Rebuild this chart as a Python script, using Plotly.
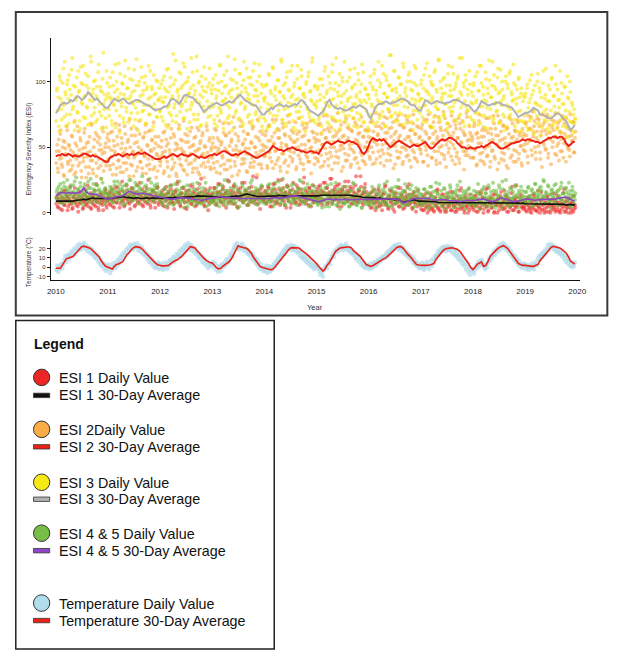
import plotly.graph_objects as go
import pandas as pd

W, H = 633, 659


def px(x):
    return x / W


def py(y):
    return 1 - y / H


years = [2010, 2011, 2012, 2013, 2014, 2015, 2016, 2017, 2018, 2019, 2020]

# ---- 30-day averages, read twice a month (1st and 15th), 2010-2019 ----
esi1_avg = [
    9, 9, 8.5, 9, 9, 8.5, 9, 9, 9, 9.5, 9.5, 10, 10, 10.5, 10, 10.5, 11, 11.5, 11, 11, 11, 10.5, 10.5, 10.5,
    10.5, 11, 11, 11.5, 12, 12, 12, 12.5, 12, 12, 11.5, 11.5, 11, 11.5, 11.5, 11, 11, 11.5, 11.5, 11, 11.5, 11.5, 11, 11.5,
    11.5, 11, 11.5, 11.5, 11, 11.5, 11.5, 12, 11.5, 11.5, 12, 12, 12, 12.5, 12, 12.5, 12.5, 13, 13, 13, 13, 13, 12.5, 12.5,
    12.5, 12, 12.5, 12, 12, 11.5, 11.5, 11.5, 12, 12.5, 12.5, 12.5, 13, 13, 13.5, 14, 14.5, 14, 13.5, 13, 13, 12.5, 12.5, 12.5,
    12.5, 13, 13, 13, 12.5, 13, 13, 13.5, 13, 13, 13, 12.5, 12.5, 13, 13, 12.5, 12.5, 13, 12.5, 12.5, 12.5, 13, 12.5, 13,
    13, 13, 13.5, 13.5, 14, 14, 13.5, 14, 14, 13.5, 13.5, 14, 14, 14, 13.5, 14, 13.5, 13, 13, 12.5, 12.5, 12, 12, 12,
    12, 11.5, 11.5, 11.5, 11, 11.5, 11, 11, 11, 10.5, 10.5, 10.5, 10, 10.5, 10, 9, 8, 8.5, 9, 9.5, 10, 10, 9.5, 9,
    9, 9, 8.5, 9, 9, 8.5, 9, 8.5, 8, 8, 8, 7.5, 7.5, 8, 8, 8, 7.5, 8, 8, 8, 7.5, 7.5, 7.5, 7.5,
    7.5, 8, 7.5, 8, 8, 8, 8, 7.5, 8, 7.5, 7.5, 7.5, 7.5, 8, 7.5, 7.5, 8, 7.5, 7.5, 7.5, 7.5, 7.5, 7, 7.5,
    7, 7, 7, 6.5, 7, 7, 6.5, 7, 7, 6.5, 7, 7, 6.5, 7, 6.5, 6.5, 6.5, 6.5, 6.5, 6, 6.5, 6.5, 6, 6.5,
]
esi2_avg = [
    43, 44, 44, 45, 44, 44, 45, 44, 43, 44, 43, 43, 44, 45, 45, 44, 43, 44, 43, 43, 42, 41, 40, 39,
    39, 42, 43, 44, 44, 45, 44, 43, 44, 45, 44, 45, 44, 45, 46, 45, 45, 46, 45, 44, 43, 42, 41, 41,
    41, 42, 43, 42, 43, 44, 45, 44, 43, 44, 45, 44, 44, 43, 44, 45, 44, 43, 42, 43, 42, 42, 43, 44,
    44, 45, 44, 45, 46, 47, 47, 46, 45, 44, 44, 45, 44, 45, 46, 47, 46, 45, 44, 43, 42, 42, 43, 44,
    45, 46, 47, 49, 51, 50, 49, 48, 48, 47, 48, 49, 49, 50, 49, 48, 48, 47, 47, 46, 46, 47, 47, 46,
    46, 45, 48, 51, 53, 54, 53, 52, 53, 54, 55, 54, 54, 53, 54, 55, 54, 54, 53, 52, 49, 46, 45, 47,
    51, 55, 57, 56, 55, 56, 55, 56, 54, 52, 50, 51, 53, 54, 55, 54, 53, 52, 51, 50, 51, 52, 51, 51,
    52, 53, 54, 52, 50, 49, 50, 52, 54, 55, 56, 55, 56, 57, 57, 56, 55, 53, 51, 50, 50, 49, 49, 50,
    49, 49, 50, 50, 51, 50, 51, 52, 53, 54, 53, 52, 50, 49, 49, 50, 51, 52, 53, 53, 54, 54, 55, 56,
    55, 56, 56, 55, 55, 54, 54, 53, 54, 55, 56, 57, 57, 58, 58, 57, 58, 58, 56, 53, 51, 52, 54, 54,
]
esi3_avg = [
    76, 78, 82, 83, 84, 83, 84, 86, 85, 87, 89, 88, 86, 87, 89, 92, 90, 88, 86, 87, 85, 83, 81, 80,
    80, 82, 85, 87, 86, 85, 86, 87, 86, 84, 83, 84, 85, 86, 86, 85, 84, 83, 82, 82, 80, 79, 78, 79,
    79, 80, 81, 81, 83, 86, 87, 86, 84, 83, 86, 89, 90, 89, 88, 88, 86, 84, 83, 80, 77, 78, 80, 81,
    82, 83, 84, 83, 82, 82, 83, 84, 85, 84, 85, 87, 89, 90, 88, 86, 85, 84, 83, 82, 82, 80, 77, 75,
    75, 77, 78, 80, 79, 81, 82, 83, 82, 81, 82, 81, 81, 82, 83, 82, 84, 86, 85, 83, 80, 78, 77, 76,
    75, 74, 76, 77, 80, 84, 86, 83, 81, 80, 79, 80, 79, 78, 78, 79, 80, 81, 80, 81, 82, 81, 80, 79,
    74, 72, 76, 80, 82, 83, 83, 84, 85, 84, 83, 84, 84, 85, 86, 87, 87, 86, 85, 83, 82, 82, 80, 78,
    78, 82, 86, 85, 84, 83, 84, 85, 85, 84, 84, 83, 84, 84, 85, 86, 86, 86, 85, 84, 83, 82, 82, 80,
    78, 77, 79, 82, 85, 84, 83, 82, 82, 83, 83, 84, 84, 83, 82, 82, 81, 81, 80, 78, 75, 73, 74, 75,
    76, 76, 77, 78, 80, 79, 78, 75, 75, 74, 73, 72, 72, 73, 75, 76, 75, 73, 71, 70, 66, 63, 65, 67,
]
esi45_avg = [
    13, 14, 15.5, 15.5, 15, 15, 15.5, 15, 15.5, 15, 15.5, 15.5, 17, 19, 16, 15, 14.5, 14.5, 14, 14, 13, 12, 11.5, 11,
    10.5, 11, 11.5, 12, 12.5, 12.5, 12.5, 13, 14, 15.5, 16.5, 16, 15, 14.5, 14.5, 15, 15, 15, 14.5, 14, 13.5, 13, 12.5, 12.5,
    12, 12, 11.5, 11, 10.5, 10.5, 10.5, 11, 11, 11.5, 11.5, 11.5, 11, 11, 11, 10.5, 10.5, 10, 10, 9.5, 10, 10.5, 11, 11.5,
    11.5, 11.5, 12, 12, 12.5, 12, 12, 11.5, 11.5, 11.5, 11, 11.5, 11.5, 11, 11, 11, 10.5, 10.5, 10.5, 10.5, 11, 10.5, 10.5, 10.5,
    10.5, 11, 11, 11, 11.5, 11.5, 11.5, 11.5, 11, 11.5, 12, 12.5, 12.5, 13, 13, 13, 12.5, 12, 11.5, 11, 10.5, 10, 9.5, 9,
    9, 8.5, 9, 9.5, 10, 10.5, 10.5, 10, 10, 10.5, 10, 10, 10, 10.5, 10, 10, 10, 10.5, 10, 10, 10, 10.5, 10, 10,
    10, 10, 10.5, 10.5, 10.5, 10, 10.5, 10.5, 10.5, 11, 10.5, 10.5, 10.5, 10.5, 10, 9, 7.5, 8, 9, 10, 10.5, 11, 11, 11.5,
    11.5, 11.5, 11, 11, 11, 10.5, 10, 9.5, 10, 10, 10.5, 10, 10, 9.5, 9.5, 9, 9, 9, 8.5, 9, 9, 9.5, 9.5, 9.5,
    9, 9.5, 10, 10.5, 10.5, 10.5, 10, 9.5, 9, 8.5, 9, 10, 11, 11.5, 11, 10.5, 10, 9.5, 9, 8.5, 9, 9, 9.5, 10,
    10.5, 10.5, 10.5, 10, 10, 9.5, 10, 10, 10.5, 10.5, 10, 10, 10.5, 10.5, 10.5, 11, 11.5, 12, 12, 12, 11, 10, 9.5, 9.5,
]
temp_avg = [
    -1, -1, -1, 2, 6, 9, 10, 11, 11.5, 14, 17, 20, 22, 22.5, 22, 21, 20, 18, 16, 13, 11, 7, 3.5, 1,
    0, -1, -1.8, 1, 3, 3.5, 5, 6, 10, 13.5, 16, 19, 21, 22, 21.5, 21, 19, 17, 14, 11.7, 9, 6.4, 4.5, 2.8,
    2, 1.5, 1.5, 1.5, 2, 4, 6, 7, 8, 9.5, 11.7, 14, 17, 19.5, 22, 21.5, 20.7, 18, 15, 12.5, 10, 8, 6, 5,
    4.6, 2, -0.7, -1.8, -1, 1, 2.8, 4, 6.4, 9, 13.5, 18, 23, 22, 21, 20.5, 20, 18, 15, 11, 7, 4, 1, 0,
    -1, -1.5, -2, -2.5, -2, 0, 3, 6, 9, 12, 15, 18, 20.4, 21, 21, 21, 20.5, 18.5, 17, 15, 13, 11, 9, 7.5,
    4, 1, -2, -4, -2, 2, 5, 9, 13, 17, 19, 20.5, 21, 21.5, 21.7, 21.7, 21, 18, 16, 14, 12, 9, 6, 3,
    2, 1, 2, 3, 4.6, 6, 8, 9, 10, 12, 14, 17, 19, 21, 22, 22, 20, 17, 14, 12, 9, 6, 3, 2.5,
    2, 2, 2, 2, 2.5, 3, 4, 8, 11.7, 14, 17, 19, 20, 20.5, 20.7, 20.5, 20, 19, 17, 14, 11.7, 8, 4, 0,
    -2.5, 0, 3.5, 4.5, 5.7, 1, 2, 6, 11.7, 14, 17, 18.9, 21, 22, 23, 22, 20, 17, 14, 10.6, 7, 4, 2.8, 2,
    2, 1.5, 1, 1, 1, 2, 3, 7, 10, 12, 15.3, 18, 21, 22.4, 22, 21.5, 20.7, 19, 17, 15.3, 11, 6.4, 5, 3.5,
]

# ---- daily values, read about twice a week (set a and set b), 2010-2019 ----
esi1_daily_a = [
    7, 12, 4, 10, 15, 8, 2, 11, 6, 17, 9, 13, 5, 10, 20, 7, 3, 12, 9, 14, 6, 11, 1, 16, 8, 10, 13, 4, 9, 18, 7, 12, 5, 11, 15, 3, 9, 13, 6, 10, 22, 8, 4, 12, 7, 14, 10, 2, 11, 16, 6, 9,
    10, 15, 6, 12, 18, 9, 4, 13, 8, 20, 11, 16, 7, 12, 24, 9, 5, 14, 11, 17, 8, 13, 3, 19, 10, 12, 15, 6, 11, 21, 9, 14, 7, 13, 18, 5, 11, 16, 8, 12, 25, 10, 6, 14, 9, 17, 12, 4, 13, 19, 8, 11,
    13, 8, 17, 11, 5, 14, 20, 10, 15, 7, 12, 18, 9, 14, 3, 16, 11, 22, 8, 13, 6, 15, 19, 10, 12, 4, 17, 9, 14, 11, 21, 7, 13, 16, 10, 5, 12, 18, 8, 15, 11, 26, 9, 13, 6, 16, 10, 14, 2, 12, 19, 9,
    14, 9, 19, 12, 6, 15, 22, 11, 16, 8, 13, 20, 10, 15, 4, 17, 12, 24, 9, 14, 7, 16, 21, 11, 13, 5, 18, 10, 15, 12, 23, 8, 14, 17, 11, 6, 13, 19, 9, 16, 12, 28, 10, 14, 7, 17, 11, 15, 3, 13, 20, 10,
    12, 17, 8, 14, 20, 10, 5, 15, 9, 22, 13, 18, 7, 14, 25, 11, 6, 16, 12, 19, 9, 15, 4, 21, 11, 14, 17, 7, 13, 23, 10, 16, 8, 15, 19, 6, 12, 18, 9, 14, 27, 11, 7, 16, 10, 19, 13, 5, 15, 21, 9, 12,
    13, 18, 9, 15, 21, 11, 6, 16, 10, 23, 14, 19, 8, 15, 26, 12, 7, 17, 13, 20, 10, 16, 5, 22, 12, 15, 18, 8, 14, 24, 11, 17, 9, 16, 20, 7, 13, 19, 10, 15, 28, 12, 8, 17, 11, 20, 14, 6, 16, 22, 10, 13,
    11, 6, 15, 9, 4, 12, 18, 8, 13, 5, 10, 16, 7, 12, 2, 14, 9, 20, 6, 11, 4, 13, 17, 8, 10, 3, 15, 7, 12, 9, 19, 5, 11, 14, 8, 3, 10, 16, 6, 13, 9, 22, 7, 11, 4, 14, 8, 12, 1, 10, 17, 7,
    8, 3, 12, 6, 2, 9, 15, 5, 10, 2, 7, 13, 4, 9, 1, 11, 6, 17, 3, 8, 2, 10, 14, 5, 7, 1, 12, 4, 9, 6, 16, 2, 8, 11, 5, 1, 7, 13, 3, 10, 6, 19, 4, 8, 2, 11, 5, 9, 0, 7, 14, 4,
    6, 10, 2, 7, 13, 5, 1, 9, 4, 15, 6, 11, 3, 7, 18, 5, 1, 10, 7, 12, 4, 9, 0, 14, 6, 8, 11, 2, 7, 16, 5, 10, 3, 9, 13, 1, 7, 11, 4, 8, 20, 6, 2, 10, 5, 12, 8, 1, 9, 14, 4, 7,
    5, 9, 2, 7, 12, 4, 1, 8, 3, 14, 6, 10, 2, 6, 17, 4, 0, 9, 6, 11, 3, 8, 1, 13, 5, 7, 10, 2, 6, 15, 4, 9, 2, 8, 12, 1, 6, 10, 3, 7, 18, 5, 1, 9, 4, 11, 7, 0, 8, 13, 3, 6,
]
esi1_daily_b = [
    11, 5, 14, 8, 3, 12, 9, 17, 6, 10, 13, 2, 11, 7, 15, 9, 4, 12, 19, 8, 10, 5, 13, 7, 16, 11, 3, 9, 14, 6, 12, 21, 8, 10, 4, 13, 7, 11, 17, 5, 9, 12, 2, 10, 15, 8, 6, 13, 9, 18, 4, 11,
    13, 7, 16, 10, 5, 14, 11, 19, 8, 12, 15, 4, 13, 9, 17, 11, 6, 14, 21, 10, 12, 7, 15, 9, 18, 13, 5, 11, 16, 8, 14, 23, 10, 12, 6, 15, 9, 13, 19, 7, 11, 14, 4, 12, 17, 10, 8, 15, 11, 20, 6, 13,
    10, 15, 6, 13, 18, 9, 12, 4, 16, 11, 21, 8, 14, 7, 12, 17, 10, 24, 9, 13, 5, 15, 11, 19, 8, 14, 3, 12, 17, 10, 13, 7, 20, 11, 15, 9, 6, 14, 12, 22, 8, 16, 10, 13, 5, 18, 11, 9, 15, 7, 13, 11,
    15, 10, 19, 12, 7, 16, 13, 22, 9, 14, 18, 6, 12, 15, 11, 25, 8, 14, 17, 10, 13, 20, 7, 15, 12, 4, 16, 11, 19, 13, 9, 14, 23, 10, 17, 12, 6, 15, 11, 20, 8, 13, 16, 10, 27, 12, 7, 14, 18, 11, 15, 9,
    11, 16, 7, 14, 19, 10, 13, 5, 17, 12, 22, 9, 15, 8, 13, 18, 11, 25, 10, 14, 6, 16, 12, 20, 9, 15, 4, 13, 18, 11, 14, 8, 21, 12, 16, 10, 7, 15, 13, 23, 9, 17, 11, 14, 6, 19, 12, 10, 16, 8, 14, 12,
    16, 11, 20, 13, 8, 17, 14, 23, 10, 15, 19, 7, 13, 16, 12, 26, 9, 15, 18, 11, 14, 21, 8, 16, 13, 5, 17, 12, 20, 14, 10, 15, 24, 11, 18, 13, 7, 16, 12, 21, 9, 14, 17, 11, 28, 13, 8, 15, 19, 12, 16, 10,
    9, 13, 4, 11, 16, 7, 10, 2, 14, 8, 18, 5, 12, 6, 10, 15, 8, 21, 7, 11, 3, 13, 9, 17, 6, 12, 1, 10, 15, 8, 11, 5, 19, 9, 13, 7, 4, 12, 10, 20, 6, 14, 8, 11, 3, 16, 9, 7, 13, 5, 11, 9,
    6, 10, 2, 8, 13, 4, 7, 0, 11, 5, 15, 3, 9, 2, 7, 12, 5, 18, 4, 8, 1, 10, 6, 14, 3, 9, 1, 7, 12, 5, 8, 2, 16, 6, 10, 4, 1, 9, 7, 17, 3, 11, 5, 8, 0, 13, 6, 4, 10, 2, 8, 6,
    9, 4, 13, 6, 1, 10, 7, 16, 3, 8, 12, 0, 7, 11, 5, 19, 2, 8, 10, 4, 7, 14, 1, 9, 6, 0, 10, 5, 13, 7, 3, 8, 17, 4, 11, 6, 1, 9, 5, 15, 2, 7, 10, 4, 21, 6, 1, 8, 12, 5, 9, 3,
    4, 8, 1, 6, 11, 3, 5, 0, 9, 4, 13, 2, 7, 1, 5, 10, 3, 16, 2, 6, 0, 8, 4, 12, 1, 7, 0, 5, 10, 3, 6, 1, 14, 4, 8, 2, 0, 7, 5, 15, 1, 9, 3, 6, 0, 11, 4, 2, 8, 1, 6, 4,
]
esi2_daily_a = [
    38, 52, 31, 47, 60, 42, 35, 55, 28, 49, 44, 63, 37, 51, 40, 33, 58, 46, 29, 53, 41, 66, 36, 48, 57, 32, 45, 39, 61, 50, 27, 43, 54, 35, 47, 68, 40, 30, 56, 44, 38, 59, 34, 48, 52, 26, 45, 62, 39, 50, 36, 57,
    41, 55, 33, 48, 62, 37, 51, 45, 29, 58, 40, 67, 35, 49, 53, 31, 46, 60, 38, 43, 56, 28, 50, 64, 36, 47, 42, 59, 32, 54, 45, 70, 39, 48, 34, 57, 44, 61, 30, 52, 41, 37, 63, 47, 55, 33, 49, 58, 27, 44, 51, 40,
    36, 50, 44, 61, 32, 47, 56, 39, 53, 28, 45, 64, 41, 35, 58, 48, 30, 52, 43, 67, 37, 49, 55, 33, 46, 60, 40, 29, 54, 44, 62, 38, 51, 34, 57, 47, 42, 65, 31, 49, 53, 36, 59, 45, 27, 50, 43, 63, 39, 55, 35, 48,
    42, 57, 34, 50, 63, 39, 47, 55, 30, 52, 44, 68, 37, 49, 59, 33, 46, 61, 40, 54, 28, 48, 65, 36, 51, 43, 58, 32, 47, 70, 41, 53, 38, 56, 45, 31, 60, 49, 35, 54, 42, 66, 39, 50, 46, 29, 57, 44, 62, 37, 52, 48,
    51, 44, 62, 36, 55, 67, 42, 49, 58, 34, 53, 47, 71, 40, 57, 63, 35, 50, 45, 65, 38, 59, 52, 31, 48, 69, 43, 56, 39, 61, 46, 54, 33, 60, 50, 72, 41, 47, 58, 37, 64, 52, 44, 68, 39, 55, 49, 30, 62, 46, 57, 42,
    47, 60, 39, 55, 68, 44, 52, 36, 63, 49, 57, 74, 41, 54, 46, 65, 33, 58, 50, 70, 43, 61, 38, 56, 48, 67, 52, 35, 59, 45, 72, 40, 57, 64, 49, 37, 62, 53, 46, 69, 42, 55, 60, 34, 51, 66, 44, 58, 39, 63, 50, 54,
    49, 63, 41, 57, 70, 46, 55, 38, 66, 52, 60, 75, 43, 56, 48, 68, 36, 61, 53, 72, 45, 64, 40, 58, 51, 69, 55, 37, 62, 47, 74, 42, 59, 67, 50, 39, 65, 56, 48, 71, 44, 58, 63, 35, 53, 68, 46, 60, 41, 66, 52, 57,
    58, 45, 67, 39, 54, 62, 48, 71, 36, 57, 50, 65, 42, 60, 53, 74, 40, 56, 47, 69, 38, 63, 51, 59, 44, 72, 35, 55, 61, 49, 66, 43, 58, 52, 70, 37, 64, 46, 57, 41, 68, 54, 50, 62, 33, 59, 47, 73, 44, 56, 61, 49,
    55, 42, 66, 48, 60, 37, 57, 70, 45, 53, 63, 39, 58, 49, 72, 43, 61, 51, 35, 64, 47, 56, 68, 41, 59, 52, 74, 38, 55, 62, 46, 67, 40, 57, 50, 65, 34, 60, 53, 71, 44, 58, 48, 63, 39, 56, 69, 45, 61, 51, 36, 58,
    60, 47, 69, 53, 38, 64, 56, 73, 44, 58, 66, 50, 41, 62, 55, 71, 46, 59, 35, 67, 52, 63, 48, 75, 42, 57, 61, 37, 65, 54, 70, 45, 58, 51, 68, 40, 62, 56, 47, 72, 53, 60, 39, 66, 49, 58, 43, 63, 55, 69, 46, 57,
]
esi2_daily_b = [
    47, 34, 56, 41, 63, 37, 50, 29, 54, 45, 66, 39, 52, 32, 48, 59, 36, 43, 70, 31, 51, 44, 62, 38, 55, 27, 49, 42, 64, 35, 53, 46, 30, 58, 40, 67, 33, 50, 44, 61, 28, 54, 41, 57, 36, 48, 65, 32, 46, 53, 39, 60,
    50, 36, 61, 43, 29, 55, 47, 68, 34, 52, 40, 63, 31, 57, 45, 38, 66, 49, 33, 54, 42, 71, 37, 59, 46, 28, 53, 44, 64, 35, 50, 60, 39, 47, 30, 58, 43, 67, 36, 51, 62, 33, 48, 56, 41, 69, 35, 53, 45, 32, 58, 42,
    39, 55, 46, 30, 62, 42, 51, 35, 67, 48, 57, 33, 44, 60, 38, 53, 28, 49, 64, 41, 56, 36, 47, 70, 32, 54, 43, 59, 37, 50, 45, 65, 31, 52, 40, 58, 34, 48, 63, 29, 55, 44, 61, 38, 51, 35, 66, 46, 42, 57, 33, 50,
    53, 38, 64, 45, 31, 57, 49, 70, 36, 54, 42, 61, 33, 59, 47, 40, 68, 51, 35, 56, 44, 73, 39, 60, 48, 29, 55, 46, 66, 37, 52, 62, 41, 49, 32, 60, 45, 69, 38, 53, 64, 35, 50, 58, 43, 71, 37, 55, 47, 34, 60, 44,
    43, 59, 50, 34, 66, 46, 55, 39, 71, 52, 61, 37, 48, 64, 42, 57, 32, 53, 68, 45, 60, 40, 51, 74, 36, 58, 47, 63, 41, 54, 49, 69, 35, 56, 44, 62, 38, 52, 67, 33, 59, 48, 65, 42, 55, 39, 70, 50, 46, 61, 37, 54,
    56, 41, 67, 48, 35, 60, 52, 74, 39, 57, 45, 64, 36, 62, 50, 43, 71, 54, 38, 59, 47, 76, 42, 63, 51, 32, 58, 49, 69, 40, 55, 65, 44, 52, 35, 63, 48, 72, 41, 56, 67, 38, 53, 61, 46, 73, 40, 58, 50, 37, 63, 47,
    58, 43, 69, 50, 37, 62, 54, 76, 41, 59, 47, 66, 38, 64, 52, 45, 73, 56, 40, 61, 49, 77, 44, 65, 53, 34, 60, 51, 71, 42, 57, 67, 46, 54, 37, 65, 50, 74, 43, 58, 69, 40, 55, 63, 48, 75, 42, 60, 52, 39, 65, 49,
    48, 64, 55, 39, 71, 51, 60, 44, 75, 57, 66, 42, 53, 69, 47, 62, 37, 58, 73, 50, 65, 45, 56, 77, 41, 63, 52, 68, 46, 59, 54, 74, 40, 61, 49, 67, 43, 57, 72, 38, 64, 53, 70, 47, 60, 44, 76, 55, 51, 66, 42, 59,
    57, 42, 68, 49, 36, 61, 53, 75, 40, 58, 46, 65, 37, 63, 51, 44, 72, 55, 39, 60, 48, 74, 43, 64, 52, 33, 59, 50, 70, 41, 56, 66, 45, 53, 36, 64, 49, 73, 42, 57, 68, 39, 54, 62, 47, 71, 41, 59, 51, 38, 64, 48,
    52, 68, 59, 43, 74, 55, 64, 48, 77, 61, 70, 46, 57, 72, 51, 66, 41, 62, 75, 54, 69, 49, 60, 73, 45, 67, 56, 71, 50, 63, 58, 76, 44, 65, 53, 70, 47, 61, 74, 42, 68, 57, 72, 51, 64, 48, 75, 59, 55, 69, 46, 62,
]
esi3_daily_a = [
    70, 95, 88, 62, 101, 79, 84, 110, 73, 92, 66, 98, 87, 105, 75, 90, 118, 81, 69, 96, 86, 77, 108, 93, 64, 99, 83, 112, 88, 72, 97, 80, 104, 91, 68, 115, 85, 94, 76, 101, 89, 71, 107, 83, 96, 74, 92, 122, 79, 86, 65, 99,
    91, 74, 103, 86, 67, 97, 82, 113, 78, 94, 88, 61, 106, 84, 99, 72, 90, 116, 80, 95, 69, 87, 102, 76, 92, 83, 109, 71, 97, 85, 63, 100, 89, 111, 77, 93, 82, 104, 68, 96, 87, 75, 108, 81, 94, 66, 90, 79, 101, 73, 86, 95,
    78, 98, 85, 70, 104, 88, 93, 65, 110, 82, 96, 74, 89, 121, 80, 101, 69, 92, 86, 107, 77, 95, 83, 114, 72, 99, 88, 64, 103, 91, 79, 118, 84, 97, 71, 93, 86, 108, 75, 100, 90, 67, 96, 81, 111, 78, 92, 85, 73, 99, 80, 94,
    83, 102, 71, 94, 87, 66, 99, 80, 112, 76, 91, 85, 105, 69, 97, 82, 119, 74, 93, 88, 63, 101, 86, 109, 78, 95, 90, 72, 106, 84, 97, 68, 115, 81, 92, 87, 103, 75, 98, 83, 70, 108, 89, 94, 77, 100, 85, 113, 73, 91, 66, 96,
    72, 88, 97, 64, 83, 105, 76, 91, 80, 110, 69, 94, 86, 74, 101, 82, 92, 117, 71, 89, 79, 99, 66, 107, 84, 93, 75, 88, 112, 70, 96, 81, 63, 102, 87, 77, 95, 109, 73, 90, 84, 68, 98, 80, 104, 76, 92, 86, 115, 71, 83, 97,
    68, 85, 96, 73, 90, 61, 102, 79, 88, 111, 75, 93, 82, 67, 99, 86, 107, 72, 94, 80, 118, 70, 89, 97, 64, 84, 103, 77, 91, 81, 70, 100, 87, 74, 109, 79, 95, 83, 66, 98, 88, 76, 106, 71, 92, 84, 113, 69, 86, 95, 78, 90,
    65, 87, 99, 72, 81, 94, 106, 77, 90, 69, 101, 84, 96, 74, 112, 83, 91, 66, 104, 88, 79, 97, 120, 73, 93, 85, 108, 76, 95, 82, 70, 103, 89, 98, 75, 114, 86, 92, 68, 100, 80, 107, 74, 94, 87, 63, 99, 83, 110, 78, 91, 85,
    76, 98, 87, 69, 105, 82, 93, 114, 78, 90, 66, 100, 86, 97, 73, 109, 84, 92, 79, 117, 70, 95, 88, 102, 75, 91, 83, 64, 106, 89, 97, 77, 111, 81, 94, 71, 99, 86, 104, 74, 92, 80, 118, 69, 96, 85, 101, 78, 90, 67, 98, 84,
    71, 89, 99, 76, 84, 107, 67, 93, 81, 112, 74, 96, 86, 65, 102, 80, 91, 116, 73, 88, 97, 70, 105, 83, 94, 78, 110, 68, 92, 85, 100, 75, 89, 63, 104, 82, 95, 72, 108, 79, 90, 86, 99, 66, 87, 94, 77, 103, 70, 91, 62, 85,
    69, 88, 76, 95, 63, 84, 101, 72, 90, 79, 60, 97, 83, 74, 106, 68, 92, 81, 65, 99, 77, 87, 110, 70, 85, 62, 94, 78, 103, 67, 89, 75, 98, 64, 86, 80, 108, 71, 91, 66, 83, 96, 73, 58, 88, 77, 100, 69, 84, 61, 79, 72,
]
esi3_daily_b = [
    93, 78, 66, 104, 87, 71, 99, 82, 115, 90, 75, 101, 68, 94, 85, 109, 79, 97, 63, 88, 103, 76, 92, 70, 111, 84, 98, 73, 89, 106, 81, 67, 95, 86, 119, 74, 91, 100, 80, 69, 96, 87, 113, 77, 93, 64, 102, 83, 90, 72, 108, 88,
    79, 96, 88, 70, 107, 83, 92, 65, 100, 86, 114, 74, 91, 81, 98, 69, 104, 87, 77, 95, 110, 72, 89, 84, 101, 66, 93, 80, 117, 76, 97, 85, 71, 103, 90, 78, 99, 68, 94, 82, 112, 75, 88, 96, 63, 105, 83, 91, 73, 100, 86, 77,
    88, 73, 101, 84, 95, 67, 109, 80, 92, 76, 103, 87, 70, 98, 83, 116, 74, 94, 89, 64, 106, 81, 97, 72, 111, 85, 78, 100, 91, 69, 95, 82, 107, 75, 90, 86, 119, 71, 99, 84, 66, 104, 88, 93, 77, 102, 68, 96, 81, 110, 74, 91,
    97, 81, 68, 105, 89, 74, 93, 113, 78, 100, 85, 64, 96, 87, 108, 72, 91, 80, 102, 69, 94, 84, 117, 76, 99, 88, 71, 106, 83, 92, 66, 101, 79, 95, 110, 73, 90, 86, 103, 67, 97, 82, 114, 75, 93, 89, 70, 104, 80, 98, 63, 87,
    85, 70, 98, 79, 106, 66, 93, 82, 111, 74, 89, 96, 63, 101, 78, 92, 84, 115, 71, 97, 87, 68, 103, 80, 94, 75, 108, 83, 90, 65, 99, 86, 77, 112, 72, 95, 81, 104, 69, 91, 88, 62, 100, 79, 107, 73, 93, 85, 118, 70, 96, 82,
    80, 94, 71, 102, 86, 66, 97, 77, 108, 84, 91, 69, 104, 81, 95, 73, 113, 87, 63, 99, 82, 92, 76, 106, 70, 89, 100, 79, 115, 74, 93, 85, 67, 103, 88, 78, 96, 72, 110, 83, 90, 65, 101, 86, 75, 98, 81, 107, 69, 94, 84, 62,
    90, 75, 104, 83, 96, 68, 109, 80, 93, 86, 115, 72, 99, 84, 77, 106, 91, 66, 101, 88, 79, 97, 120, 74, 94, 82, 108, 70, 92, 87, 103, 76, 98, 85, 67, 111, 81, 95, 89, 73, 105, 84, 100, 69, 93, 78, 112, 86, 97, 71, 90, 80,
    87, 101, 73, 95, 82, 110, 69, 92, 85, 104, 76, 98, 88, 65, 107, 81, 94, 79, 116, 72, 100, 86, 91, 74, 103, 83, 97, 68, 112, 80, 93, 89, 77, 106, 84, 96, 70, 102, 87, 118, 75, 90, 83, 99, 66, 105, 81, 94, 78, 108, 73, 92,
    83, 97, 70, 104, 86, 76, 93, 112, 68, 99, 81, 90, 74, 107, 85, 95, 64, 101, 79, 88, 115, 72, 96, 84, 77, 103, 91, 69, 109, 82, 94, 87, 73, 100, 66, 98, 80, 106, 75, 92, 85, 113, 71, 97, 83, 62, 102, 88, 78, 95, 70, 89,
    74, 91, 66, 98, 80, 70, 87, 105, 63, 93, 77, 84, 68, 100, 82, 95, 59, 88, 75, 108, 71, 90, 79, 64, 97, 85, 73, 102, 67, 89, 81, 112, 69, 94, 76, 86, 61, 99, 83, 72, 96, 78, 65, 104, 87, 70, 92, 63, 82, 75, 68, 71,
]
esi45_daily_a = [
    12, 18, 9, 15, 22, 11, 16, 7, 20, 13, 17, 25, 10, 14, 19, 8, 16, 21, 12, 15, 27, 9, 18, 13, 23, 11, 16, 6, 20, 14, 17, 10, 24, 13, 19, 8, 15, 22, 12, 17, 9, 21, 14, 18, 11, 26, 13, 16, 7, 19, 15, 12,
    15, 10, 20, 13, 8, 17, 24, 12, 16, 9, 19, 14, 22, 11, 17, 6, 15, 21, 13, 18, 10, 25, 14, 9, 19, 12, 16, 23, 11, 15, 7, 20, 13, 17, 28, 10, 16, 12, 21, 14, 8, 18, 15, 23, 11, 17, 9, 19, 13, 22, 12, 16,
    9, 14, 7, 12, 18, 10, 5, 15, 11, 20, 8, 13, 16, 6, 12, 22, 9, 14, 11, 17, 7, 13, 19, 10, 4, 15, 12, 21, 8, 11, 16, 9, 14, 6, 18, 12, 10, 23, 8, 13, 15, 7, 11, 19, 9, 14, 5, 12, 17, 10, 13, 8,
    10, 15, 7, 13, 19, 9, 12, 5, 16, 11, 21, 8, 14, 17, 6, 12, 24, 10, 15, 9, 13, 18, 7, 11, 20, 12, 4, 16, 10, 14, 22, 8, 13, 17, 11, 6, 15, 19, 9, 12, 25, 10, 14, 7, 16, 11, 18, 9, 13, 20, 8, 12,
    12, 7, 16, 10, 21, 13, 8, 18, 11, 5, 15, 23, 9, 14, 12, 19, 7, 17, 10, 26, 13, 6, 15, 11, 20, 9, 14, 17, 8, 12, 22, 10, 16, 6, 13, 18, 11, 24, 9, 15, 7, 12, 19, 10, 14, 5, 17, 11, 21, 8, 13, 16,
    8, 13, 6, 11, 17, 9, 4, 14, 10, 19, 7, 12, 15, 5, 11, 22, 8, 13, 10, 16, 6, 12, 18, 9, 3, 14, 11, 20, 7, 10, 15, 8, 13, 5, 17, 11, 9, 23, 7, 12, 14, 6, 10, 18, 8, 13, 4, 11, 16, 9, 12, 7,
    11, 6, 15, 9, 20, 12, 7, 17, 10, 4, 14, 21, 8, 13, 11, 18, 6, 16, 9, 24, 12, 5, 14, 10, 19, 8, 13, 16, 7, 11, 20, 9, 15, 5, 12, 17, 10, 22, 8, 14, 6, 11, 18, 9, 13, 4, 16, 10, 19, 7, 12, 15,
    9, 14, 6, 12, 18, 8, 11, 4, 15, 10, 20, 7, 13, 16, 5, 11, 23, 9, 14, 8, 12, 17, 6, 10, 19, 11, 3, 15, 9, 13, 21, 7, 12, 16, 10, 5, 14, 18, 8, 11, 24, 9, 13, 6, 15, 10, 17, 8, 12, 19, 7, 11,
    11, 7, 17, 10, 6, 15, 22, 9, 14, 7, 17, 11, 20, 8, 15, 5, 12, 19, 10, 16, 8, 23, 11, 6, 17, 9, 13, 21, 8, 12, 4, 18, 10, 14, 25, 7, 13, 9, 19, 11, 6, 16, 12, 21, 8, 14, 7, 17, 10, 20, 9, 13,
    10, 16, 7, 12, 19, 9, 13, 5, 18, 11, 15, 22, 8, 12, 17, 6, 14, 20, 10, 13, 24, 7, 16, 11, 21, 9, 14, 4, 18, 12, 15, 8, 22, 11, 17, 6, 13, 20, 10, 15, 7, 19, 12, 16, 9, 23, 11, 14, 5, 17, 13, 10,
]
esi45_daily_b = [
    16, 11, 20, 14, 8, 18, 13, 23, 10, 15, 19, 9, 17, 12, 21, 14, 7, 16, 24, 11, 15, 18, 10, 13, 20, 8, 17, 14, 22, 12, 16, 9, 19, 13, 26, 11, 15, 18, 10, 14, 21, 12, 17, 8, 16, 13, 23, 11, 18, 15, 9, 14,
    13, 17, 10, 19, 15, 8, 21, 12, 16, 24, 11, 14, 18, 9, 20, 13, 16, 7, 22, 14, 11, 17, 25, 12, 15, 19, 10, 13, 21, 16, 8, 18, 14, 23, 11, 15, 20, 12, 17, 9, 14, 26, 13, 18, 10, 16, 21, 12, 15, 19, 11, 13,
    11, 15, 8, 13, 19, 10, 14, 6, 17, 12, 9, 21, 13, 16, 7, 12, 18, 10, 14, 24, 9, 15, 11, 20, 8, 13, 16, 5, 12, 18, 10, 14, 22, 9, 13, 17, 11, 7, 15, 19, 12, 10, 16, 8, 14, 23, 11, 13, 6, 17, 12, 9,
    13, 9, 17, 11, 6, 15, 21, 10, 14, 8, 18, 12, 25, 9, 14, 16, 7, 13, 19, 11, 15, 10, 22, 8, 13, 17, 12, 5, 16, 11, 20, 9, 14, 18, 10, 13, 7, 15, 23, 11, 16, 9, 12, 19, 14, 6, 17, 10, 15, 21, 11, 13,
    10, 14, 8, 17, 12, 22, 9, 15, 11, 19, 7, 13, 16, 10, 24, 12, 14, 8, 18, 11, 15, 6, 20, 13, 9, 17, 12, 21, 10, 14, 7, 16, 11, 19, 13, 25, 9, 15, 12, 18, 8, 14, 10, 22, 13, 16, 6, 12, 17, 11, 20, 9,
    11, 7, 15, 9, 19, 12, 8, 16, 10, 5, 14, 21, 9, 13, 11, 17, 7, 15, 10, 23, 12, 6, 14, 10, 18, 8, 13, 16, 7, 11, 20, 9, 15, 5, 12, 17, 10, 22, 8, 14, 6, 11, 18, 9, 13, 4, 16, 10, 19, 7, 12, 14,
    9, 13, 6, 11, 17, 8, 12, 4, 15, 10, 19, 7, 13, 16, 9, 11, 22, 8, 14, 6, 12, 18, 10, 5, 16, 11, 14, 20, 8, 12, 25, 9, 13, 7, 15, 11, 17, 6, 10, 19, 12, 8, 14, 21, 9, 13, 5, 16, 10, 12, 18, 8,
    10, 6, 14, 9, 18, 11, 7, 16, 9, 4, 13, 20, 8, 12, 10, 17, 6, 15, 9, 22, 11, 5, 13, 9, 18, 7, 12, 15, 6, 10, 19, 8, 14, 4, 11, 16, 9, 21, 7, 13, 5, 10, 17, 8, 12, 3, 15, 9, 18, 6, 11, 14,
    8, 12, 5, 10, 16, 7, 11, 3, 14, 9, 18, 6, 12, 15, 8, 10, 21, 7, 13, 5, 11, 17, 9, 4, 15, 10, 13, 19, 7, 11, 24, 8, 12, 6, 14, 10, 16, 5, 9, 18, 11, 7, 13, 20, 8, 12, 4, 15, 9, 11, 17, 7,
    12, 8, 16, 10, 20, 13, 9, 17, 11, 6, 15, 22, 10, 14, 12, 19, 8, 17, 11, 25, 13, 7, 15, 11, 20, 9, 14, 17, 8, 12, 21, 10, 16, 6, 13, 18, 11, 23, 9, 15, 7, 12, 19, 10, 14, 5, 17, 11, 20, 8, 13, 15,
]
temp_daily = [
    -3, 2, -5, 1, -2, 4, -1, 3, 8, 12, 6, 11, 14, 9, 13, 17, 12, 16, 20, 14, 19, 23, 18, 25, 21, 19, 24, 22, 26, 20, 23, 17, 22, 19, 15, 20, 14, 18, 11, 15, 9, 13, 6, 10, 3, 7, 1, 4, -2, 3, -4, 1,
    -2, 3, -6, 0, -3, 4, 1, -1, 6, 2, 8, 4, 11, 7, 14, 10, 16, 13, 19, 15, 21, 18, 24, 20, 23, 19, 25, 21, 22, 26, 18, 23, 20, 16, 21, 14, 18, 12, 15, 9, 13, 6, 10, 4, 8, 1, 5, -1, 3, 0, 5, -2,
    4, -1, 2, -3, 5, 0, 3, -2, 6, 1, 8, 4, 7, 11, 6, 10, 14, 9, 13, 17, 12, 19, 15, 21, 18, 24, 20, 23, 26, 19, 22, 24, 18, 21, 16, 20, 14, 17, 11, 15, 9, 12, 6, 10, 4, 8, 2, 6, -1, 4, 1, 3,
    3, 6, 0, 4, -3, 1, -5, -1, 2, -4, 3, 0, 5, 2, 8, 4, 9, 6, 12, 15, 11, 18, 21, 24, 20, 26, 22, 19, 23, 21, 25, 18, 22, 20, 16, 19, 14, 17, 12, 15, 9, 13, 7, 10, 4, 8, 1, 5, -2, 3, 0, -4,
    -1, -4, 2, -6, -2, 1, -5, 0, -3, 2, 4, 1, 7, 5, 10, 8, 13, 11, 15, 18, 14, 20, 17, 23, 19, 22, 20, 24, 18, 21, 23, 19, 17, 21, 15, 18, 12, 16, 10, 13, 8, 11, 6, 9, 4, 7, 2, 5, 0, 3, -2, 1,
    3, -1, 1, -4, -8, -2, -6, -10, -3, 0, 2, -1, 4, 7, 3, 9, 12, 15, 11, 18, 16, 20, 17, 22, 19, 24, 21, 18, 23, 20, 25, 19, 22, 17, 20, 15, 18, 13, 16, 10, 14, 8, 12, 6, 10, 3, 7, 1, 5, -1, 3, 0,
    2, -2, 4, 0, -1, 3, 5, 1, 6, 3, 8, 5, 9, 7, 11, 9, 12, 10, 14, 16, 12, 18, 15, 19, 21, 17, 23, 20, 24, 22, 19, 25, 21, 18, 22, 16, 20, 14, 17, 12, 15, 10, 13, 8, 11, 5, 9, 3, 6, 1, 4, -1,
    3, -1, 5, 1, -3, 4, 0, 6, 2, -2, 3, 7, 1, 9, 5, 12, 10, 14, 17, 13, 19, 16, 21, 18, 22, 20, 17, 23, 19, 21, 18, 22, 16, 20, 14, 18, 12, 16, 9, 13, 7, 11, 4, 8, 2, 6, -2, 3, -5, 0, -8, -3,
    -4, -1, -7, -3, 2, -1, 5, 1, 7, 3, 8, 4, 1, -2, 3, 0, 5, 9, 7, 12, 10, 14, 17, 13, 19, 16, 21, 18, 24, 20, 23, 26, 21, 24, 19, 22, 17, 20, 14, 17, 11, 14, 8, 12, 6, 9, 3, 7, 1, 4, -1, 3,
    4, 1, -2, 3, 0, -3, 2, -1, 4, 1, -2, 3, 6, 2, 9, 12, 8, 14, 11, 16, 13, 18, 15, 20, 24, 19, 22, 25, 21, 23, 19, 22, 17, 21, 16, 19, 14, 17, 12, 15, 9, 13, 6, 10, 4, 8, 2, 6, 0, 4, 1, 5,
]

legend_title = "Legend"
legend_points = ["ESI 1 Daily Value", "ESI 2Daily Value", "ESI 3 Daily Value",
                 "ESI 4 & 5 Daily Value", "Temperature Daily Value"]
legend_lines = ["ESI 1 30-Day Average", "ESI 2 30-Day Average", "ESI 3 30-Day Average",
                "ESI 4 & 5 30-Day Average", "Temperature 30-Day Average"]

# ---- styles ----
COL_RED = "rgb(236,38,34)"
COL_ORANGE = "rgb(248,166,52)"
COL_YELLOW = "rgb(246,228,0)"
COL_GREEN = "rgb(100,184,52)"
COL_BLUE = "rgb(168,214,230)"
AVG_BLACK = "#111111"
AVG_RED = "rgb(236,34,22)"
AVG_GRAY = "rgb(178,178,178)"
AVG_PURPLE = "rgb(142,70,196)"
TEMP_RED = "rgb(236,34,22)"


def dates(n, start):
    return pd.date_range(start, periods=n, freq="7D")


def semimonthly(n):
    return pd.date_range("2010-01-01", periods=n, freq="SMS")


fig = go.Figure()


def pts(vals, start, color, xa, ya, size=4, op=0.55):
    fig.add_trace(go.Scatter(x=dates(len(vals), start), y=vals, mode="markers",
                             marker=dict(color=color, size=size, opacity=op, line=dict(width=0)),
                             xaxis=xa, yaxis=ya, showlegend=False, hoverinfo="skip"))


def line(vals, color, width, xa, ya):
    fig.add_trace(go.Scatter(x=semimonthly(len(vals)), y=vals, mode="lines",
                             line=dict(color=color, width=width),
                             xaxis=xa, yaxis=ya, showlegend=False, hoverinfo="skip"))


pts(esi1_daily_a, "2010-01-04", COL_RED, "x", "y")
pts(esi1_daily_b, "2010-01-07", COL_RED, "x", "y")
pts(esi2_daily_a, "2010-01-04", COL_ORANGE, "x", "y")
pts(esi2_daily_b, "2010-01-07", COL_ORANGE, "x", "y")
pts(esi3_daily_a, "2010-01-04", COL_YELLOW, "x", "y")
pts(esi3_daily_b, "2010-01-07", COL_YELLOW, "x", "y")
pts(esi45_daily_a, "2010-01-04", COL_GREEN, "x", "y")
pts(esi45_daily_b, "2010-01-07", COL_GREEN, "x", "y")
line(esi3_avg, AVG_GRAY, 2, "x", "y")
line(esi2_avg, AVG_RED, 2, "x", "y")
line(esi1_avg, AVG_BLACK, 1.6, "x", "y")
line(esi45_avg, AVG_PURPLE, 1.6, "x", "y")

pts(temp_daily, "2010-01-04", COL_BLUE, "x2", "y2", size=4.5, op=0.6)
line(temp_avg, TEMP_RED, 1.6, "x2", "y2")

XDOM = [px(47.5), px(586)]
XRNG = ["2009-11-26", "2020-01-19"]
tick_font = dict(family="Liberation Sans, Arial, sans-serif", size=6, color="#333")

fig.update_layout(
    width=W, height=H, autosize=False,
    margin=dict(l=0, r=0, t=0, b=0, pad=0),
    paper_bgcolor="white", plot_bgcolor="white",
    font=dict(family="Liberation Sans, Arial, sans-serif", color="#222"),
    showlegend=False,
    xaxis=dict(domain=XDOM, range=XRNG, type="date", anchor="y", visible=False),
    yaxis=dict(domain=[py(215), py(38)], range=[-1.3, 133.2], anchor="x",
               tickvals=[0, 50, 100], ticks="outside", ticklen=3, tickwidth=1, tickcolor="#222",
               showline=True, linecolor="#111", linewidth=1, showgrid=False, zeroline=False,
               tickfont=tick_font),
    xaxis2=dict(domain=XDOM, range=XRNG, type="date", anchor="y2",
                tickvals=[f"{y}-01-01" for y in years], ticktext=[str(y) for y in years],
                ticks="", showline=True, linecolor="#111", linewidth=1,
                showgrid=False, zeroline=False, ticklabelstandoff=4,
                tickfont=dict(family="Liberation Sans, Arial, sans-serif", size=8, color="#222")),
    yaxis2=dict(domain=[py(280), py(240)], range=[-13.1, 29.5], anchor="x2",
                tickvals=[-10, 0, 10, 20], ticktext=["-10", "0", "10", "20"],
                ticks="outside", ticklen=3, tickwidth=1, tickcolor="#222",
                showline=True, linecolor="#111", linewidth=1, showgrid=False, zeroline=False,
                tickfont=tick_font),
)

shapes = []
annotations = []

# outer chart frame and legend frame
shapes.append(dict(type="rect", xref="paper", yref="paper", x0=px(12), x1=px(614), y0=py(316), y1=py(12),
                   line=dict(color="#3a3a3a", width=2), fillcolor="rgba(0,0,0,0)"))
shapes.append(dict(type="rect", xref="paper", yref="paper", x0=px(12), x1=px(275), y0=py(650), y1=py(321),
                   line=dict(color="#222", width=1.5), fillcolor="rgba(0,0,0,0)"))

# axis titles
annotations.append(dict(text="Emergency Severity Index (ESI)", xref="paper", yref="paper",
                        x=px(25), y=py(150), textangle=-90, showarrow=False,
                        font=dict(size=6.5, color="#333"), xanchor="center", yanchor="middle"))
annotations.append(dict(text="Temperature (°C)", xref="paper", yref="paper",
                        x=px(25), y=py(263), textangle=-90, showarrow=False,
                        font=dict(size=6.5, color="#333"), xanchor="center", yanchor="middle"))
annotations.append(dict(text="Year", xref="paper", yref="paper", x=px(316), y=py(308), showarrow=False,
                        font=dict(size=7.5, color="#333"), xanchor="center", yanchor="middle"))

# legend
annotations.append(dict(text="<b>" + legend_title + "</b>", xref="paper", yref="paper", x=px(28), y=py(345),
                        showarrow=False, font=dict(size=14, color="#111"), xanchor="left", yanchor="middle"))
point_cols = [COL_RED, "rgb(250,172,70)", "rgb(246,234,20)", "rgb(120,190,70)", "rgb(176,220,236)"]
line_cols = [AVG_BLACK, AVG_RED, AVG_GRAY, AVG_PURPLE, TEMP_RED]
circle_y = [378, 430, 483, 534, 604]
swatch_y = [396, 447.5, 500, 551.5, 621.5]
for lab, col, cy in zip(legend_points, point_cols, circle_y):
    shapes.append(dict(type="circle", xref="paper", yref="paper",
                       x0=px(38.3 - 8.3), x1=px(38.3 + 8.3), y0=py(cy + 8.3), y1=py(cy - 8.3),
                       fillcolor=col, line=dict(color="#333", width=1)))
    annotations.append(dict(text=lab, xref="paper", yref="paper", x=px(54), y=py(cy + 0.5),
                            showarrow=False, font=dict(size=14.3, color="#111"),
                            xanchor="left", yanchor="middle"))
for lab, col, sy in zip(legend_lines, line_cols, swatch_y):
    shapes.append(dict(type="rect", xref="paper", yref="paper",
                       x0=px(30), x1=px(46.5), y0=py(sy + 2.2), y1=py(sy - 2.2),
                       fillcolor=col, line=dict(color="#333", width=0.8)))
    annotations.append(dict(text=lab, xref="paper", yref="paper", x=px(54), y=py(sy),
                            showarrow=False, font=dict(size=14.3, color="#111"),
                            xanchor="left", yanchor="middle"))

fig.update_layout(shapes=shapes, annotations=annotations)
fig.write_html("out.html")
